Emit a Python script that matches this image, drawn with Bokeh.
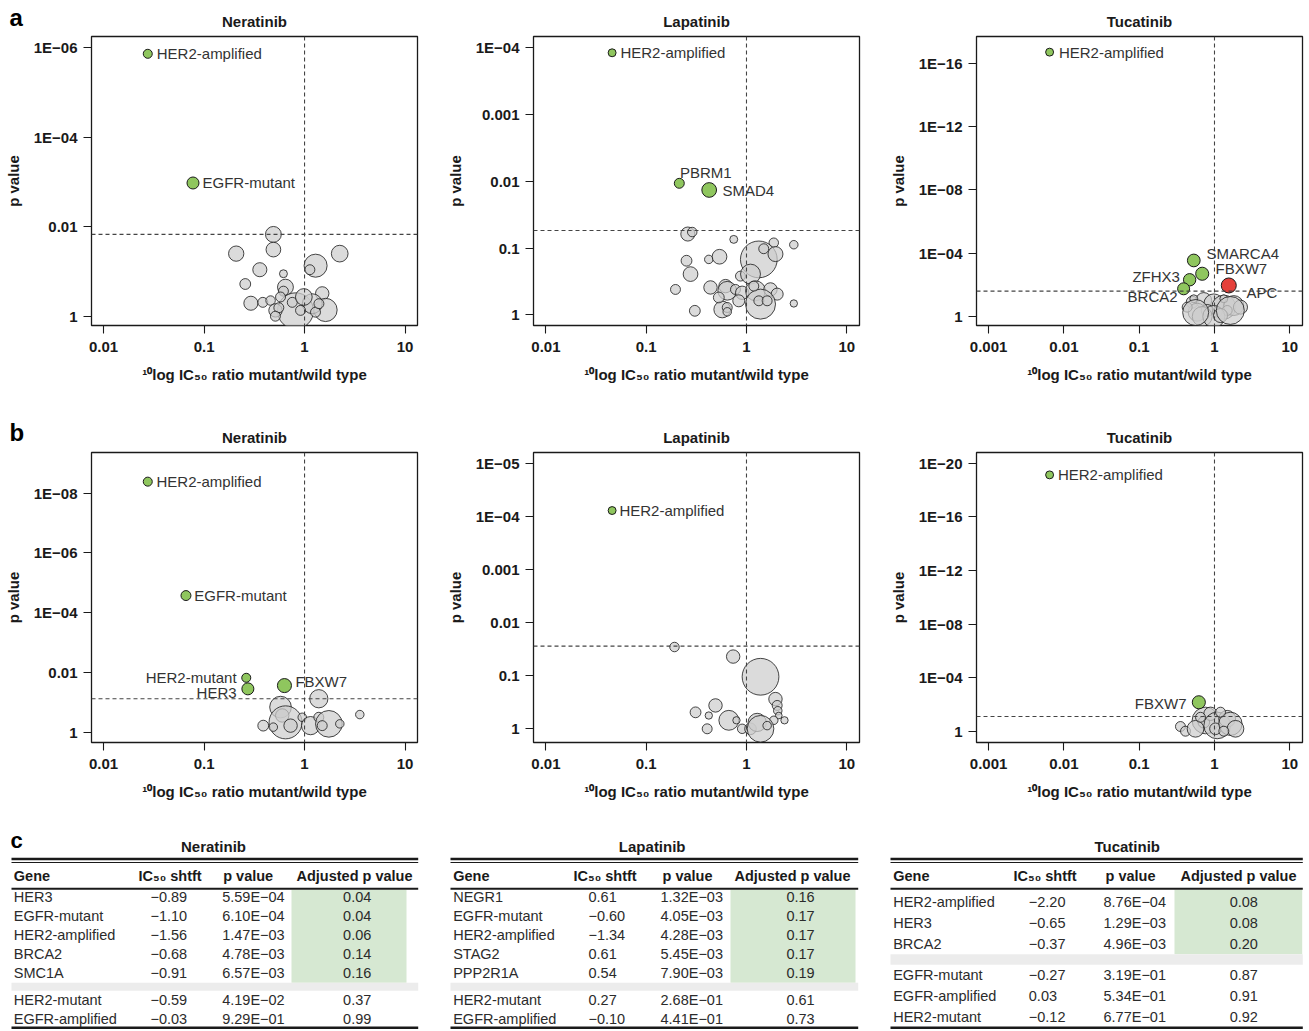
import numpy as np
from bokeh.plotting import figure
from bokeh.layouts import row, column
from bokeh.models import (Range1d, FixedTicker, CustomJSTickFormatter, Span,
                          ColumnDataSource)
from bokeh.core.properties import value
from bokeh.embed import file_html
from bokeh.resources import INLINE

FONT = "Liberation Sans"
GREEN = "#8fc65e"
RED = "#e5403a"
GRAY = "#cdcdcd"
INK = "#1a1a1a"

# ========================= DATA =========================
drugs = ["Neratinib", "Lapatinib", "Tucatinib"]
x_ticks_short = [0.01, 0.1, 1, 10]
x_ticks_long = [0.001, 0.01, 0.1, 1, 10]

# ---- panel a, Neratinib ----
a_ner_hit_genes = ["HER2-amplified", "EGFR-mutant"]
a_ner_hit_log_ratio = [-1.56, -1.11]
a_ner_hit_neglog_p = [5.87, 2.98]
a_ner_hit_n = [9, 16]
a_ner_hit_effect = ["sensitive", "sensitive"]
a_ner_log_ratio = [-0.31, -0.31, -0.68, 0.35, -0.445, -0.21, 0.11, 0.053, -0.59, -0.19,
                   -0.21, 0.176, -0.534, -0.415, -0.338, -0.09, 0.209, 0.077, -0.289,
                   -0.256, -0.04, 0.109, 0.143, -0.122, -0.29, -0.007, -0.239]
a_ner_neglog_p = [1.83, 1.49, 1.40, 1.40, 1.04, 0.95, 1.13, 1.04, 0.72, 0.65,
                  0.56, 0.51, 0.29, 0.31, 0.35, 0.12, 0.14, 0.28, 0.13,
                  0.19, 0.13, 0.09, 0.28, 0.31, 0.0, 0.43, 0.43]
a_ner_n = [28, 24, 26, 31, 22, 7, 59, 11, 13, 28,
           11, 20, 22, 11, 10, 144, 60, 44, 20,
           11, 11, 11, 11, 11, 11, 31, 11]
a_ner_threshold_p = 0.0148
a_ner_y_ticks = [1e-6, 1e-4, 1e-2, 1]

# ---- panel a, Lapatinib ----
a_lap_hit_genes = ["HER2-amplified", "PBRM1", "SMAD4"]
a_lap_hit_log_ratio = [-1.34, -0.67, -0.372]
a_lap_hit_neglog_p = [3.925, 1.97, 1.87]
a_lap_hit_n = [7, 11, 24]
a_lap_hit_effect = ["sensitive", "sensitive", "sensitive"]
a_lap_log_ratio = [-0.585, -0.541, -0.127, 0.272, 0.472, 0.123, 0.289, 0.172, -0.598, -0.376,
                   -0.269, -0.558, -0.06, 0.04, -0.708, -0.359, -0.209, -0.192, -0.11, -0.043,
                   0.09, 0.239, 0.306, 0.14, 0.123, 0.206, -0.242, -0.192, -0.192, -0.515,
                   0.472, -0.077, -0.276, 0.073]
a_lap_neglog_p = [1.21, 1.24, 1.13, 1.08, 1.05, 0.83, 0.91, 0.99, 0.81, 0.83,
                  0.87, 0.61, 0.58, 0.61, 0.38, 0.41, 0.43, 0.36, 0.38, 0.33,
                  0.36, 0.38, 0.31, 0.16, 0.21, 0.21, 0.08, 0.11, 0.045, 0.06,
                  0.17, 0.21, 0.26, 0.43]
a_lap_n = [22, 10, 7, 10, 8, 150, 25, 11, 13, 8,
           24, 24, 11, 44, 11, 20, 20, 39, 11, 20,
           44, 20, 16, 100, 11, 11, 31, 11, 8, 13,
           6, 16, 13, 11]
a_lap_threshold_p = 0.0546
a_lap_y_ticks = [1e-4, 1e-3, 1e-2, 0.1, 1]

# ---- panel a, Tucatinib ----
a_tuc_hit_genes = ["HER2-amplified", "SMARCA4", "FBXW7", "ZFHX3", "BRCA2", "APC"]
a_tuc_hit_log_ratio = [-2.19, -0.275, -0.163, -0.33, -0.41, 0.19]
a_tuc_hit_neglog_p = [16.7, 3.54, 2.70, 2.32, 1.75, 1.96]
a_tuc_hit_n = [7, 18, 19, 17, 16, 25]
a_tuc_hit_effect = ["sensitive", "sensitive", "sensitive", "sensitive", "sensitive", "resistant"]
a_tuc_log_ratio = [-0.296, -0.142, -0.009, 0.124, 0.256, -0.23, -0.097, 0.036, 0.169,
                   0.345, -0.363, -0.275, 0.124, -0.163, -0.009, 0.08, 0.21, -0.25]
a_tuc_neglog_p = [0.90, 1.01, 0.80, 0.59, 0.69, 0.27, 0.38, 0.27, 0.38,
                  0.59, 0.59, 1.12, 1.12, 0.0, 0.0, 0.06, 0.38, 0.25]
a_tuc_n = [16, 28, 44, 64, 44, 36, 16, 11, 11,
           22, 11, 7, 7, 44, 54, 22, 87, 75]
a_tuc_threshold_p = 0.025
a_tuc_y_ticks = [1e-16, 1e-12, 1e-8, 1e-4, 1]

# ---- panel b, Neratinib ----
b_ner_hit_genes = ["HER2-amplified", "EGFR-mutant", "HER2-mutant", "HER3", "FBXW7"]
b_ner_hit_log_ratio = [-1.56, -1.18, -0.58, -0.564, -0.2]
b_ner_hit_neglog_p = [8.38, 4.57, 1.82, 1.45, 1.56]
b_ner_hit_n = [9, 11, 9, 16, 22]
b_ner_hit_effect = ["sensitive"] * 5
b_ner_log_ratio = [0.142, -0.239, -0.222, -0.189, -0.023, 0.06, 0.142, 0.242, 0.176,
                   0.351, 0.55, -0.411, -0.311, -0.139]
b_ner_neglog_p = [1.12, 0.84, 0.56, 0.33, 0.50, 0.22, 0.50, 0.28, 0.22,
                  0.28, 0.59, 0.22, 0.17, 0.22]
b_ner_n = [37, 52, 20, 121, 8, 37, 11, 79, 11, 8, 8, 13, 8, 20]
b_ner_threshold_p = 0.076
b_ner_y_ticks = [1e-8, 1e-6, 1e-4, 1e-2, 1]

# ---- panel b, Lapatinib ----
b_lap_hit_genes = ["HER2-amplified"]
b_lap_hit_log_ratio = [-1.34]
b_lap_hit_neglog_p = [4.11]
b_lap_hit_n = [7]
b_lap_hit_effect = ["sensitive"]
b_lap_log_ratio = [-0.718, -0.133, 0.14, 0.289, 0.306, 0.312, 0.322, 0.379, 0.272, -0.508,
                   -0.309, -0.376, -0.176, -0.1, -0.392, -0.043, 0.04, 0.107, 0.14, 0.206]
b_lap_neglog_p = [1.54, 1.36, 0.98, 0.56, 0.44, 0.34, 0.25, 0.16, 0.16, 0.31,
                  0.44, 0.25, 0.16, 0.16, 0.0, 0.0, 0.0, 0.12, 0.0, 0.06]
b_lap_n = [10, 20, 150, 20, 11, 8, 5, 6, 8, 13,
           20, 6, 44, 6, 11, 10, 15, 37, 79, 8]
b_lap_threshold_p = 0.0278
b_lap_y_ticks = [1e-5, 1e-4, 1e-3, 1e-2, 0.1, 1]

# ---- panel b, Tucatinib ----
b_tuc_hit_genes = ["HER2-amplified", "FBXW7"]
b_tuc_hit_log_ratio = [-2.19, -0.208]
b_tuc_hit_neglog_p = [19.13, 2.16]
b_tuc_hit_n = [7, 19]
b_tuc_hit_effect = ["sensitive", "sensitive"]
b_tuc_log_ratio = [-0.452, -0.385, -0.12, -0.142, -0.053, 0.036, 0.013, 0.169, 0.212,
                   0.279, -0.252, -0.186, 0.124, 0.08]
b_tuc_neglog_p = [0.35, 0.0, 0.80, 0.67, 1.30, 0.43, 0.18, 0.93, 0.55,
                  0.18, 0.18, 1.04, 0.0, 1.42]
b_tuc_n = [11, 11, 79, 15, 20, 79, 15, 31, 60, 31, 31, 11, 11, 11]
b_tuc_threshold_p = 0.08
b_tuc_y_ticks = [1e-20, 1e-16, 1e-12, 1e-8, 1e-4, 1]

# ---- panel c tables ----
c_ner_genes = ["HER3", "EGFR-mutant", "HER2-amplified", "BRCA2", "SMC1A", "HER2-mutant", "EGFR-amplified"]
c_ner_shift = [-0.89, -1.10, -1.56, -0.68, -0.91, -0.59, -0.03]
c_ner_p = [5.59e-04, 6.10e-04, 1.47e-03, 4.78e-03, 6.57e-03, 4.19e-02, 9.29e-01]
c_ner_adj = [0.04, 0.04, 0.06, 0.14, 0.16, 0.37, 0.99]
c_ner_n_sig = 5

c_lap_genes = ["NEGR1", "EGFR-mutant", "HER2-amplified", "STAG2", "PPP2R1A", "HER2-mutant", "EGFR-amplified"]
c_lap_shift = [0.61, -0.60, -1.34, 0.61, 0.54, 0.27, -0.10]
c_lap_p = [1.32e-03, 4.05e-03, 4.28e-03, 5.45e-03, 7.90e-03, 2.68e-01, 4.41e-01]
c_lap_adj = [0.16, 0.17, 0.17, 0.17, 0.19, 0.61, 0.73]
c_lap_n_sig = 5

c_tuc_genes = ["HER2-amplified", "HER3", "BRCA2", "EGFR-mutant", "EGFR-amplified", "HER2-mutant"]
c_tuc_shift = [-2.20, -0.65, -0.37, -0.27, 0.03, -0.12]
c_tuc_p = [8.76e-04, 1.29e-03, 4.96e-03, 3.19e-01, 5.34e-01, 6.77e-01]
c_tuc_adj = [0.08, 0.08, 0.20, 0.87, 0.91, 0.92]
c_tuc_n_sig = 3

# ========================= HELPERS =========================
TICK_FMT = """
const e = Math.round(Math.log10(tick));
if (e >= 0) { return String(Math.round(tick)); }
if (e >= -3) { return tick.toFixed(-e); }
const a = -e;
return "1E\\u2212" + (a < 10 ? "0" + a : String(a));
"""


def bubble_diameter(n):
    return 3.0 * np.sqrt(np.asarray(n, dtype=float))


def blank_fig(width, height):
    p = figure(width=width, height=height, x_range=Range1d(0, width),
               y_range=Range1d(height, 0), output_backend="svg",
               toolbar_location=None, min_border=0,
               x_axis_location=None, y_axis_location=None)
    p.outline_line_color = None
    p.grid.visible = False
    p.background_fill_color = "white"
    p.border_fill_color = "white"
    return p


def strip_fig(width, height, titles, title_xs, title_y, letter, letter_mid):
    p = blank_fig(width, height)
    p.text(x=title_xs, y=[title_y] * len(titles), text=titles, text_align="center",
           text_baseline="middle", text_font=value(FONT), text_font_size="15px",
           text_font_style="bold", text_color=INK)
    p.text(x=[9], y=[letter_mid], text=[letter], text_align="left",
           text_baseline="middle", text_font=value(FONT),
           text_font_size="24px", text_font_style="bold", text_color="black")
    return p


def volcano(lr, nlp, n, hg, hlr, hnlp, hn, heff, lab_dx, lab_dy, lab_align,
            thr, xticks, yticks, xlim, ylim, width, height, bl, br, bt, bb):
    p = figure(width=width, height=height, x_axis_type="log", y_axis_type="log",
               x_range=Range1d(10 ** xlim[0], 10 ** xlim[1]),
               y_range=Range1d(10 ** (-ylim[0]), 10 ** (-ylim[1])),
               output_backend="svg", toolbar_location=None,
               min_border_left=bl, min_border_right=br, min_border_top=bt,
               min_border_bottom=bb)
    p.outline_line_color = INK
    p.outline_line_width = 1.3
    p.grid.visible = False
    p.background_fill_color = "white"
    p.border_fill_color = "white"
    fmt = CustomJSTickFormatter(code=TICK_FMT)
    for ax in (p.xaxis[0], p.yaxis[0]):
        ax.axis_line_color = None
        ax.major_tick_line_color = INK
        ax.major_tick_line_width = 1.1
        ax.major_tick_in = 0
        ax.major_tick_out = 8
        ax.minor_tick_line_color = None
        ax.major_label_text_font = FONT
        ax.major_label_text_font_size = "15px"
        ax.major_label_text_font_style = "bold"
        ax.major_label_text_color = INK
        ax.axis_label_text_font = FONT
        ax.axis_label_text_font_size = "15px"
        ax.axis_label_text_font_style = "bold"
        ax.axis_label_text_color = INK
        ax.formatter = fmt
    p.xaxis[0].ticker = FixedTicker(ticks=xticks, minor_ticks=[])
    p.yaxis[0].ticker = FixedTicker(ticks=yticks, minor_ticks=[])
    p.xaxis[0].axis_label = "\u00b9\u2070log IC\u2085\u2080 ratio mutant/wild type"
    p.yaxis[0].axis_label = "p value"
    p.xaxis[0].major_label_standoff = 8
    p.yaxis[0].major_label_standoff = 6
    p.xaxis[0].axis_label_standoff = 11
    p.yaxis[0].axis_label_standoff = 9

    p.add_layout(Span(location=1, dimension="height", line_color="#444444",
                      line_dash="4 3", line_width=1.1))
    p.add_layout(Span(location=thr, dimension="width", line_color="#444444",
                      line_dash="4 3", line_width=1.1))

    gsrc = ColumnDataSource(dict(
        x=10 ** np.asarray(lr, dtype=float),
        y=10 ** (-np.asarray(nlp, dtype=float)),
        s=bubble_diameter(n)))
    p.scatter("x", "y", size="s", source=gsrc, fill_color=GRAY, fill_alpha=0.72,
              line_color=INK, line_width=1.0, line_alpha=0.8)

    colors = [GREEN if e == "sensitive" else RED for e in heff]
    hsrc = ColumnDataSource(dict(
        x=10 ** np.asarray(hlr, dtype=float),
        y=10 ** (-np.asarray(hnlp, dtype=float)),
        s=bubble_diameter(hn), c=colors, text=hg,
        dx=lab_dx, dy=lab_dy, al=lab_align))
    p.scatter("x", "y", size="s", source=hsrc, fill_color="c", fill_alpha=1.0,
              line_color=INK, line_width=1.0)
    p.text("x", "y", text="text", x_offset="dx", y_offset="dy", text_align="al",
           text_baseline="middle", source=hsrc, text_font=value(FONT),
           text_font_size="15px", text_color="#333333")
    return p


def fmt_num(v, spec):
    return format(v, spec).replace("-", "\u2212")


TABLE_H = 209


def table_fig(title, genes, shifts, pvals, adj, n_sig, width, cols, r0, step, extra,
              letter=None):
    p = blank_fig(width, TABLE_H)
    n = len(genes)
    ys = [r0 + i * step + (extra if i >= n_sig else 0) for i in range(n)]
    band_top = ys[n_sig - 1] + step / 2
    band_bot = band_top + extra
    header_rule = 68.3
    L, R = cols["left"], cols["right"]

    p.quad(left=[cols["green_l"]], right=[cols["green_r"]], top=[header_rule + 1],
           bottom=[band_top], fill_color="#d6e8d2", line_color=None)
    p.quad(left=[L], right=[R], top=[band_top], bottom=[band_bot],
           fill_color="#ececec", line_color=None)
    p.segment(x0=[L], x1=[R], y0=[38.5], y1=[38.5], line_color=INK, line_width=2.4)
    p.segment(x0=[L], x1=[R], y0=[42.0], y1=[42.0], line_color=INK, line_width=1.2)
    p.segment(x0=[L], x1=[R], y0=[header_rule], y1=[header_rule], line_color=INK,
              line_width=2.0)
    p.segment(x0=[L], x1=[R], y0=[207.3], y1=[207.3], line_color=INK, line_width=2.6)

    p.text(x=[cols["title_x"]], y=[25.7], text=[title], text_align="center",
           text_baseline="middle", text_font=value(FONT), text_font_size="15px",
           text_font_style="bold", text_color=INK)
    hx = [cols["gene_x"], cols["ic_head_x"], cols["p_head_x"], cols["adj_head_x"]]
    ht = ["Gene", "IC\u2085\u2080 shtft", "p value", "Adjusted p value"]
    ha = ["left", "left", "left", "center"]
    p.text(x=hx, y=[55.5] * 4, text=ht, text_align=ha, text_baseline="middle",
           text_font=value(FONT), text_font_size="14.5px", text_font_style="bold",
           text_color=INK)

    txt_kw = dict(text_baseline="middle", text_font=value(FONT),
                  text_font_size="14.5px", text_color="#2b2b2b")
    p.text(x=[cols["gene_x"]] * n, y=ys, text=genes, text_align="left", **txt_kw)
    p.text(x=[cols["ic_x"]] * n, y=ys, text=[fmt_num(v, ".2f") for v in shifts],
           text_align="left", **txt_kw)
    p.text(x=[cols["p_x"]] * n, y=ys, text=[fmt_num(v, ".2E") for v in pvals],
           text_align="left", **txt_kw)
    p.text(x=[cols["adj_x"]] * n, y=ys, text=[fmt_num(v, ".2f") for v in adj],
           text_align="center", **txt_kw)
    if letter:
        p.text(x=[10], y=[20], text=[letter], text_align="left",
               text_baseline="middle", text_font=value(FONT),
               text_font_size="22px", text_font_style="bold", text_color="black")
    return p


# ========================= BUILD =========================
W1, W2, W3 = 440, 433, 434
WT = W1 + W2 + W3
BL1, BL2, BL3 = 91, 93, 103
FW = 326
HDR_A, HDR_B = 35, 46
SA, SB = 370, 369          # scatter figure heights
FA, FB = 289, 290          # frame heights
title_xs = [BL1 + FW / 2, W1 + BL2 + FW / 2, W1 + W2 + BL3 + FW / 2]

strip_a = strip_fig(WT, HDR_A, drugs, title_xs, 21, "a", 17)
strip_b = strip_fig(WT, HDR_B, drugs, title_xs, 32, "b", 27)

a1 = volcano(a_ner_log_ratio, a_ner_neglog_p, a_ner_n,
             a_ner_hit_genes, a_ner_hit_log_ratio, a_ner_hit_neglog_p, a_ner_hit_n,
             a_ner_hit_effect, [9, 9.5], [0, 0], ["left", "left"],
             a_ner_threshold_p, x_ticks_short, a_ner_y_ticks,
             (-2.12, 1.124), (-0.208, 6.257), W1, SA, BL1, W1 - BL1 - FW, 1, SA - 1 - FA)
a2 = volcano(a_lap_log_ratio, a_lap_neglog_p, a_lap_n,
             a_lap_hit_genes, a_lap_hit_log_ratio, a_lap_hit_neglog_p, a_lap_hit_n,
             a_lap_hit_effect, [8.3, 0.6, 13.3], [0, -11, 1], ["left", "left", "left"],
             a_lap_threshold_p, x_ticks_short, a_lap_y_ticks,
             (-2.124, 1.127), (-0.16, 4.169), W2, SA, BL2, W2 - BL2 - FW, 1, SA - 1 - FA)
a3 = volcano(a_tuc_log_ratio, a_tuc_neglog_p, a_tuc_n,
             a_tuc_hit_genes, a_tuc_hit_log_ratio, a_tuc_hit_neglog_p, a_tuc_hit_n,
             a_tuc_hit_effect, [9.3, 12.7, 13.3, -9.7, -6, 17.7], [0, -7, -5, -3, 7.7, 6.7],
             ["left", "left", "left", "right", "right", "left"],
             a_tuc_threshold_p, x_ticks_long, a_tuc_y_ticks,
             (-3.161, 1.169), (-0.569, 17.688), W3, SA, BL3, W3 - BL3 - FW, 1, SA - 1 - FA)

b1 = volcano(b_ner_log_ratio, b_ner_neglog_p, b_ner_n,
             b_ner_hit_genes, b_ner_hit_log_ratio, b_ner_hit_neglog_p, b_ner_hit_n,
             b_ner_hit_effect, [8.7, 8.3, -9.7, -11.3, 11], [0, 0, 0, 3.4, -4.3],
             ["left", "left", "right", "right", "left"],
             b_ner_threshold_p, x_ticks_short, b_ner_y_ticks,
             (-2.12, 1.124), (-0.344, 9.355), W1, SB, BL1, W1 - BL1 - FW, 1, SB - 1 - FB)
b2 = volcano(b_lap_log_ratio, b_lap_neglog_p, b_lap_n,
             b_lap_hit_genes, b_lap_hit_log_ratio, b_lap_hit_neglog_p, b_lap_hit_n,
             b_lap_hit_effect, [7.3], [0], ["left"],
             b_lap_threshold_p, x_ticks_short, b_lap_y_ticks,
             (-2.124, 1.127), (-0.258, 5.203), W2, SB, BL2, W2 - BL2 - FW, 1, SB - 1 - FB)
b3 = volcano(b_tuc_log_ratio, b_tuc_neglog_p, b_tuc_n,
             b_tuc_hit_genes, b_tuc_hit_log_ratio, b_tuc_hit_neglog_p, b_tuc_hit_n,
             b_tuc_hit_effect, [8.3, -12.3], [0, 1], ["left", "right"],
             b_tuc_threshold_p, x_ticks_long, b_tuc_y_ticks,
             (-3.161, 1.169), (-0.843, 20.8), W3, SB, BL3, W3 - BL3 - FW, 1, SB - 1 - FB)

c1 = table_fig(drugs[0], c_ner_genes, c_ner_shift, c_ner_p, c_ner_adj, c_ner_n_sig, W1,
               dict(left=11, right=417.7, gene_x=13.3, ic_head_x=138, ic_x=150,
                    p_head_x=222.7, p_x=221.7, adj_head_x=354, adj_x=356.7,
                    green_l=291, green_r=406, title_x=213), 76.7, 19.0, 8.0, letter="c")
c2 = table_fig(drugs[1], c_lap_genes, c_lap_shift, c_lap_p, c_lap_adj, c_lap_n_sig, W2,
               dict(left=10, right=417.7, gene_x=12.7, ic_head_x=133, ic_x=148,
                    p_head_x=222, p_x=220, adj_head_x=352, adj_x=360,
                    green_l=290, green_r=415, title_x=211.7), 76.7, 19.0, 8.0)
c3 = table_fig(drugs[2], c_tuc_genes, c_tuc_shift, c_tuc_p, c_tuc_adj, c_tuc_n_sig, W3,
               dict(left=17, right=429.3, gene_x=19.7, ic_head_x=140, ic_x=155.3,
                    p_head_x=232, p_x=230, adj_head_x=365, adj_x=370.3,
                    green_l=301, green_r=428.7, title_x=253.7), 81.7, 20.8, 10.5)

layout = column(strip_a, row(a1, a2, a3), strip_b, row(b1, b2, b3), row(c1, c2, c3))

open("out.html", "w").write(file_html(layout, INLINE))
